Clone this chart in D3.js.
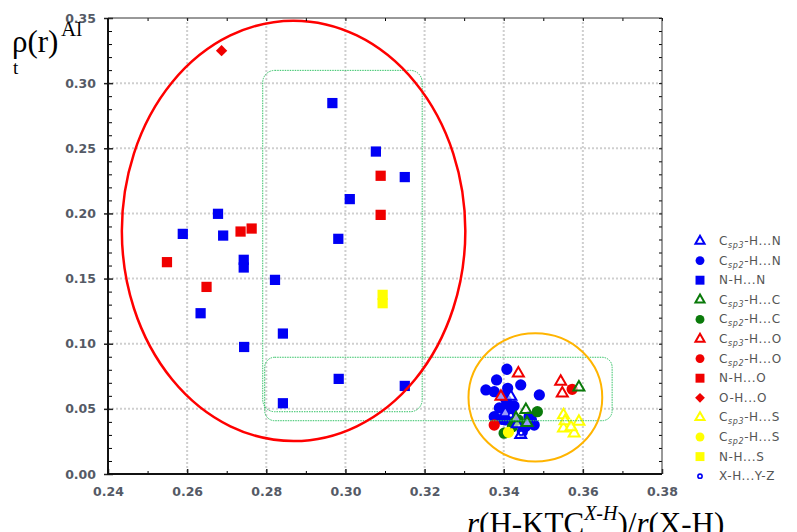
<!DOCTYPE html>
<html>
<head>
<meta charset="utf-8">
<script src="https://cdn.jsdelivr.net/npm/d3@7"></script>
<style>
  body { margin: 0; background: #fff; }
  .tickText { font-family: "DejaVu Sans", sans-serif; font-weight: bold; font-size: 12.5px; fill: #555a66; }
  .legText { font-family: "DejaVu Sans", sans-serif; font-size: 12px; letter-spacing: 0.6px; fill: #555; }
</style>
</head>
<body>
<div id="chart"></div>
<script>
// chart size
var svgWidth = 797;
var svgHeight = 532;

var margin = { top: 18, right: 135, bottom: 58, left: 108 };
var width = svgWidth - margin.left - margin.right;
var height = svgHeight - margin.top - margin.bottom;

// data: [x, y] pairs
var csp3HN = [[0.3418, 0.0594], [0.3443, 0.0300], [0.3434, 0.0384], [0.3404, 0.0468]];
var csp2HN = [[0.3408, 0.0804], [0.3382, 0.0722], [0.3355, 0.0645], [0.3376, 0.0632], [0.3410, 0.0658],
              [0.3443, 0.0684], [0.3490, 0.0607], [0.3406, 0.0568], [0.3406, 0.0492], [0.3404, 0.0415],
              [0.3376, 0.0440], [0.3464, 0.0440], [0.3477, 0.0376], [0.3447, 0.0325], [0.3389, 0.0507],
              [0.3426, 0.0522], [0.3398, 0.0600], [0.3420, 0.0455], [0.3395, 0.0420], [0.3470, 0.0415],
              [0.3455, 0.0365], [0.3412, 0.0530]];
var nhN = [[0.2967, 0.2847], [0.3077, 0.2475], [0.3150, 0.2279], [0.3011, 0.2110], [0.2678, 0.1997],
           [0.2589, 0.1843], [0.2691, 0.1830], [0.2982, 0.1805], [0.2743, 0.1644], [0.2743, 0.1585],
           [0.2822, 0.1490], [0.2634, 0.1234], [0.2842, 0.1078], [0.2744, 0.0975], [0.2983, 0.0730],
           [0.3150, 0.0676], [0.2842, 0.0543]];
var csp3HC = [[0.3456, 0.0492], [0.3431, 0.0430], [0.3459, 0.0392], [0.3590, 0.0666]];
var csp2HC = [[0.3485, 0.0478], [0.3422, 0.0363], [0.3401, 0.0313], [0.3437, 0.0415]];
var csp3HO = [[0.3437, 0.0773], [0.3393, 0.0594], [0.3544, 0.0709], [0.3548, 0.0620]];
var csp2HO = [[0.3376, 0.0376], [0.3573, 0.0650]];
var nhO = [[0.3089, 0.2289], [0.3089, 0.1989], [0.2735, 0.1861], [0.2763, 0.1884], [0.2549, 0.1626],
           [0.2649, 0.1436]];
var ohO = [[0.2687, 0.3249]];
var csp3HS = [[0.3551, 0.0453], [0.3551, 0.0351], [0.3590, 0.0402], [0.3578, 0.0313], [0.3555, 0.0407],
              [0.3570, 0.0361]];
var csp2HS = [[0.3412, 0.0320]];
var nhS = [[0.3094, 0.1375], [0.3094, 0.1311]];
var xhYZ = [[0.3444, 0.0315], [0.3418, 0.0450]];

var legendLabels = ["C_{sp3}-H...N", "C_{sp2}-H...N", "N-H...N", "C_{sp3}-H...C", "C_{sp2}-H...C",
                    "C_{sp3}-H...O", "C_{sp2}-H...O", "N-H...O", "O-H...O", "C_{sp3}-H...S",
                    "C_{sp2}-H...S", "N-H...S", "X-H...Y-Z"];

var xTicks = [0.24, 0.26, 0.28, 0.30, 0.32, 0.34, 0.36, 0.38];
var yTicks = [0.00, 0.05, 0.10, 0.15, 0.20, 0.25, 0.30, 0.35];

var blue = "#0000f5", green = "#0a7a0a", red = "#f00000", yellow = "#ffff00";

var series = [
  { label: legendLabels[0], data: csp3HN, shape: "tri", color: blue },
  { label: legendLabels[1], data: csp2HN, shape: "circle", color: blue },
  { label: legendLabels[2], data: nhN, shape: "square", color: blue },
  { label: legendLabels[3], data: csp3HC, shape: "tri", color: green },
  { label: legendLabels[4], data: csp2HC, shape: "circle", color: green },
  { label: legendLabels[5], data: csp3HO, shape: "tri", color: red },
  { label: legendLabels[6], data: csp2HO, shape: "circle", color: red },
  { label: legendLabels[7], data: nhO, shape: "square", color: red },
  { label: legendLabels[8], data: ohO, shape: "diamond", color: red },
  { label: legendLabels[9], data: csp3HS, shape: "tri", color: yellow },
  { label: legendLabels[10], data: csp2HS, shape: "circle", color: yellow },
  { label: legendLabels[11], data: nhS, shape: "square", color: yellow },
  { label: legendLabels[12], data: xhYZ, shape: "ring", color: blue }
];

// draw order so the cluster looks like the picture (blue under the others)
var drawOrder = [2, 7, 8, 11, 1, 6, 4, 10, 0, 3, 5, 9, 12];

var svg = d3.select("#chart")
  .append("svg")
  .attr("width", svgWidth)
  .attr("height", svgHeight);

var chart = svg.append("g")
  .attr("transform", `translate(${margin.left}, ${margin.top})`);

var x = d3.scaleLinear().domain([0.24, 0.38]).range([0, width]);
var y = d3.scaleLinear().domain([0, 0.35]).range([height, 0]);

// dotted grid
chart.append("g").selectAll("line")
  .data(xTicks.slice(1, -1)).enter().append("line")
  .attr("x1", d => x(d)).attr("x2", d => x(d))
  .attr("y1", 0).attr("y2", height)
  .attr("stroke", "#cfcfcf").attr("stroke-width", 2).attr("stroke-dasharray", "2,2");
chart.append("g").selectAll("line")
  .data(yTicks.slice(1, -1)).enter().append("line")
  .attr("y1", d => y(d)).attr("y2", d => y(d))
  .attr("x1", 0).attr("x2", width)
  .attr("stroke", "#cfcfcf").attr("stroke-width", 2).attr("stroke-dasharray", "2,2");

// markers
var markSize = { tri: 52, circle: 100, square: 105, diamond: 64, ring: 14 };
var legendSize = { tri: 36, circle: 62, square: 80, diamond: 48, ring: 14 };

function symbolFor(shape, size) {
  var type = shape == "tri" ? d3.symbolTriangle : shape == "circle" || shape == "ring" ? d3.symbolCircle : d3.symbolSquare;
  return d3.symbol().type(type).size(size)();
}
function styleMark(sel, s) {
  if (s.shape == "tri" || s.shape == "ring") {
    sel.attr("fill", "#fff").attr("fill-opacity", s.shape == "ring" ? 1 : 0.6)
      .attr("stroke", s.color).attr("stroke-width", s.shape == "ring" ? 1.6 : 2);
  } else {
    sel.attr("fill", s.color).attr("stroke", "none");
  }
}
// diamonds are squares turned by 45 degrees
function rot(s) { return s.shape == "diamond" ? " rotate(45)" : ""; }

drawOrder.forEach(function(i) {
  var s = series[i];
  var marks = chart.append("g").selectAll("path")
    .data(s.data).enter().append("path")
    .attr("d", symbolFor(s.shape, markSize[s.shape]))
    .attr("transform", d => `translate(${x(d[0])}, ${y(d[1])})` + rot(s));
  styleMark(marks, s);
});

// highlighted regions
chart.append("rect")
  .attr("x", x(0.2791)).attr("y", y(0.3098))
  .attr("width", x(0.3194) - x(0.2791)).attr("height", y(0.0478) - y(0.3098))
  .attr("rx", 12).attr("ry", 12)
  .attr("fill", "none").attr("stroke", "#33c266").attr("stroke-width", 1).attr("stroke-dasharray", "1.5,1");
chart.append("rect")
  .attr("x", x(0.2796)).attr("y", y(0.0896))
  .attr("width", x(0.3674) - x(0.2796)).attr("height", y(0.0409) - y(0.0896))
  .attr("rx", 10).attr("ry", 10)
  .attr("fill", "none").attr("stroke", "#33c266").attr("stroke-width", 1).attr("stroke-dasharray", "1.5,1");

chart.append("ellipse")
  .attr("cx", x(0.2869)).attr("cy", y(0.1866))
  .attr("rx", x(0.2869) - x(0.2435)).attr("ry", y(0.1866) - y(0.3479))
  .attr("fill", "none").attr("stroke", "#ff0000").attr("stroke-width", 2.5);
chart.append("ellipse")
  .attr("cx", x(0.3480)).attr("cy", y(0.0588))
  .attr("rx", x(0.3480) - x(0.3311)).attr("ry", y(0.0588) - y(0.1080))
  .attr("fill", "none").attr("stroke", "#ffb400").attr("stroke-width", 2);

// axes
var xMinor = d3.range(0.25, 0.38, 0.02);
var yMinor = d3.range(0.01, 0.35, 0.01).filter(v => Math.abs(v * 20 - Math.round(v * 20)) > 0.01);

var bottomAxis = d3.axisBottom(x).tickValues(xTicks).tickSize(-5).tickPadding(13).tickFormat(d3.format(".2f"));
var leftAxis = d3.axisLeft(y).tickValues(yTicks).tickSize(-5).tickPadding(12).tickFormat(d3.format(".2f"));

var gx = chart.append("g").attr("transform", `translate(0, ${height})`).call(bottomAxis);
var gy = chart.append("g").call(leftAxis);
[gx, gy].forEach(function(g) {
  g.select(".domain").remove();
  g.selectAll("line").attr("stroke", "#222").attr("stroke-width", 1.5);
  g.selectAll("text").attr("class", "tickText").attr("font-family", null).attr("font-size", null).attr("fill", null);
});
gy.selectAll(".tick").append("line").attr("x1", -4).attr("x2", 0).attr("stroke", "#222").attr("stroke-width", 1.5);

// minor ticks on every side
chart.append("g").attr("transform", `translate(0, ${height})`)
  .call(d3.axisBottom(x).tickValues(xMinor).tickSize(-3).tickFormat(""))
  .call(g => g.select(".domain").remove());
chart.append("g")
  .call(d3.axisLeft(y).tickValues(yMinor).tickSize(-4).tickFormat(""))
  .call(g => g.select(".domain").remove());
chart.append("g")
  .call(d3.axisTop(x).tickValues(xTicks.concat(xMinor)).tickSize(-3).tickFormat(""))
  .call(g => g.select(".domain").remove());
chart.append("g").attr("transform", `translate(${width}, 0)`)
  .call(d3.axisRight(y).tickValues(yTicks.concat(yMinor)).tickSize(-3).tickFormat(""))
  .call(g => g.select(".domain").remove());

// frame
chart.append("path")
  .attr("d", `M0,0H${width}V${height}`)
  .attr("fill", "none").attr("stroke", "#333").attr("stroke-width", 1);
chart.append("path")
  .attr("d", `M0,0V${height}H${width}`)
  .attr("fill", "none").attr("stroke", "#111").attr("stroke-width", 2);

// legend
var legend = svg.append("g").attr("transform", "translate(700, 241)");
series.forEach(function(s, i) {
  var row = legend.append("g").attr("transform", `translate(0, ${i * 19.6})`);
  var m = row.append("path")
    .attr("d", symbolFor(s.shape, legendSize[s.shape]))
    .attr("transform", s.shape == "diamond" ? "rotate(45)" : null);
  styleMark(m, s);
  m.attr("fill-opacity", 1);
  var t = row.append("text").attr("class", "legText").attr("x", 19).attr("y", 4);
  var parts = s.label.match(/^(.*?)_\{(.*?)\}(.*)$/);
  if (parts) {
    t.append("tspan").text(parts[1]);
    t.append("tspan").attr("font-size", "8px").attr("font-style", "italic").attr("dy", 3).text(parts[2]);
    t.append("tspan").attr("dy", -3).text(parts[3]);
  } else {
    t.text(s.label);
  }
});

// axis titles
var serif = '"Liberation Serif", "Times New Roman", serif';
svg.append("text").attr("x", 12).attr("y", 52)
  .attr("font-family", serif).attr("font-size", "31px").attr("fill", "#000").text("ρ(r)");
svg.append("text").attr("x", 61).attr("y", 36)
  .attr("font-family", serif).attr("font-size", "21px").attr("fill", "#000").text("Al");
svg.append("text").attr("x", 13).attr("y", 74)
  .attr("font-family", serif).attr("font-size", "19px").attr("fill", "#000").text("t");

var xt = svg.append("text").attr("x", 467).attr("y", 534)
  .attr("font-family", serif).attr("font-size", "31px").attr("fill", "#000");
xt.append("tspan").attr("font-style", "italic").text("r");
xt.append("tspan").text("(H-KTC");
xt.append("tspan").attr("font-style", "italic").attr("font-size", "20px").attr("dy", -14).text("X-H");
xt.append("tspan").attr("dy", 14).text(")/");
xt.append("tspan").attr("font-style", "italic").text("r");
xt.append("tspan").text("(X-H)");
</script>
</body>
</html>
